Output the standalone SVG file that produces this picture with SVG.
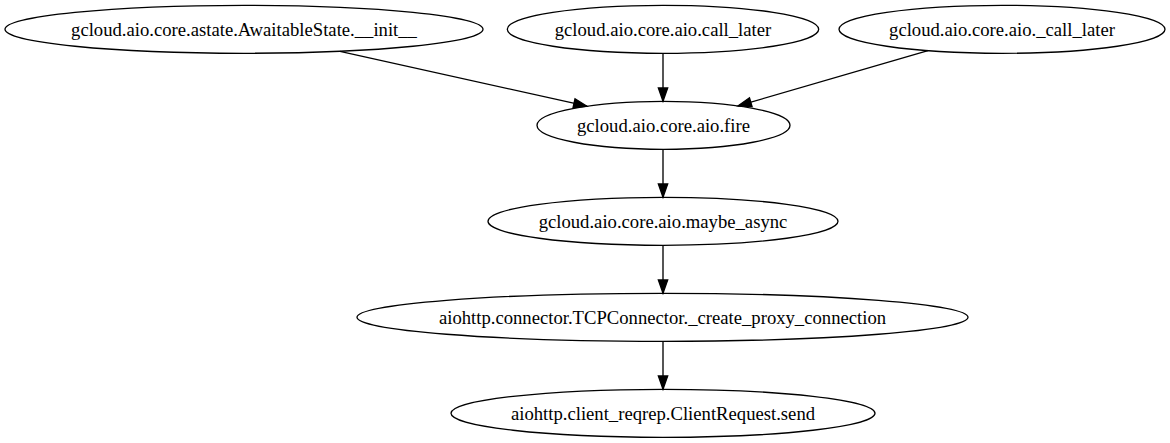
<svg xmlns="http://www.w3.org/2000/svg" width="1170" height="443" viewBox="0 0 1170 443">
<style>
.n ellipse{fill:none;stroke:#000;stroke-width:1.33}
.n text{font-family:"Liberation Serif","Times New Roman",serif;font-size:18.67px;text-anchor:middle;fill:#000}
.e path{fill:none;stroke:#000;stroke-width:1.33}
</style>
<defs>
<marker id="ah" viewBox="0 0 13.3 9.3" refX="13.3" refY="4.65" markerWidth="13.3" markerHeight="9.3" markerUnits="userSpaceOnUse" orient="auto" overflow="visible">
<path d="M0,0 L13.3,4.65 L0,9.3 Z" fill="#000" stroke="#000" stroke-width="1.33"/>
</marker>
</defs>
<rect width="1170" height="443" fill="#fff"/>
<g id="edges" class="e">
<path d="M340,51.3 L587,106.2" marker-end="url(#ah)"/>
<path d="M663,53.3 L663,101.3" marker-end="url(#ah)"/>
<path d="M928,50.7 L738,105.9" marker-end="url(#ah)"/>
<path d="M663,149.3 L663,197.3" marker-end="url(#ah)"/>
<path d="M663,245.3 L663,293.3" marker-end="url(#ah)"/>
<path d="M663,341.3 L663,389.3" marker-end="url(#ah)"/>
</g>
<g id="n1" class="n"><ellipse cx="244" cy="29.3" rx="239" ry="24"/><text x="244" y="35.5">gcloud.aio.core.astate.AwaitableState.__init__</text></g>
<g id="n2" class="n"><ellipse cx="663" cy="29.3" rx="155.7" ry="24"/><text x="663" y="35.5">gcloud.aio.core.aio.call_later</text></g>
<g id="n3" class="n"><ellipse cx="1002" cy="29.3" rx="163" ry="24"/><text x="1002" y="35.5">gcloud.aio.core.aio._call_later</text></g>
<g id="n4" class="n"><ellipse cx="663.5" cy="125.3" rx="126.5" ry="24"/><text x="663.5" y="131.5">gcloud.aio.core.aio.fire</text></g>
<g id="n5" class="n"><ellipse cx="663" cy="221.3" rx="175" ry="24"/><text x="663" y="227.5">gcloud.aio.core.aio.maybe_async</text></g>
<g id="n6" class="n"><ellipse cx="662.5" cy="317.3" rx="305.5" ry="24"/><text x="662.5" y="323.5">aiohttp.connector.TCPConnector._create_proxy_connection</text></g>
<g id="n7" class="n"><ellipse cx="663" cy="413.3" rx="212" ry="24"/><text x="663" y="419.5">aiohttp.client_reqrep.ClientRequest.send</text></g>
</svg>
